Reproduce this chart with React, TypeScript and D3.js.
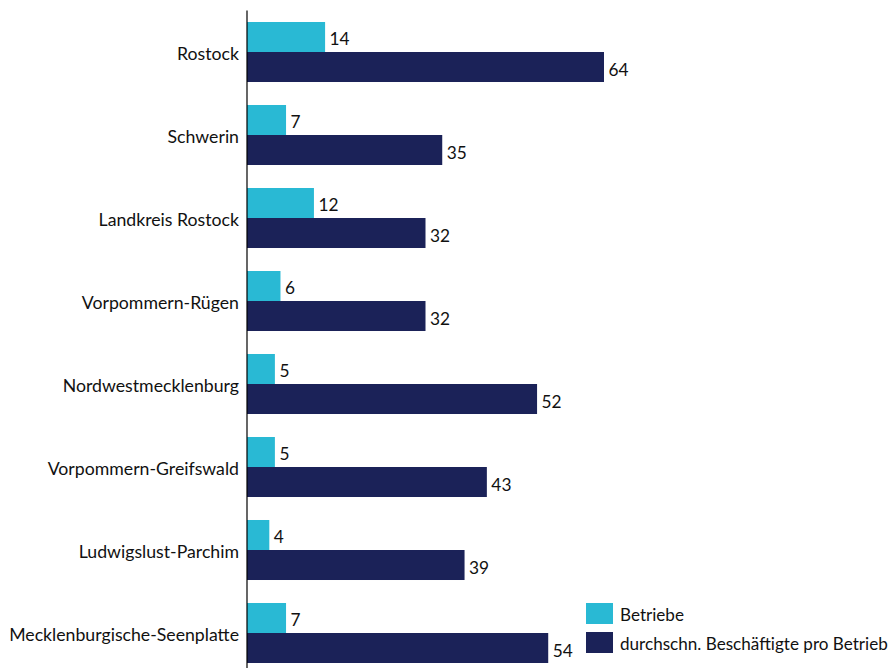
import React from "react";
import * as d3 from "d3";

const categories = [
  "Rostock",
  "Schwerin",
  "Landkreis Rostock",
  "Vorpommern-Rügen",
  "Nordwestmecklenburg",
  "Vorpommern-Greifswald",
  "Ludwigslust-Parchim",
  "Mecklenburgische-Seenplatte",
];
const betriebe = [14, 7, 12, 6, 5, 5, 4, 7];
const beschaeftigte = [64, 35, 32, 32, 52, 43, 39, 54];
const seriesNames = ["Betriebe", "durchschn. Beschäftigte pro Betrieb"];
const colors = ["#29B9D4", "#1B2258"];

const W = 895;
const H = 668;
const FONT = "Lato, 'Open Sans', sans-serif";
const FS = 17.3;
const FS_LABEL = 17.7;

export default function App() {
  const x = d3.scaleLinear().domain([0, 64]).range([247, 604]);
  const y = d3.scaleBand<string>().domain(categories).range([10.5, 674.5]).paddingInner(0.277).paddingOuter(0.1385);
  const sub = d3.scaleBand<number>().domain([0, 1]).range([0, y.bandwidth()]);
  const series = [betriebe, beschaeftigte];

  return (
    <svg width={W} height={H} style={{ position: "fixed", left: 0, top: 0, background: "#fff" }}>
      {categories.map((c, i) => (
        <g key={c}>
          <text
            x={239}
            y={(y(c) as number) + y.bandwidth() / 2 + 1.5}
            textAnchor="end"
            dominantBaseline="central"
            fontFamily={FONT}
            fontSize={FS_LABEL}
            fill="#111"
          >
            {c}
          </text>
          {series.map((s, k) => {
            const by = (y(c) as number) + (sub(k) as number);
            return (
              <g key={k}>
                <rect x={x(0)} y={by} width={x(s[i]) - x(0)} height={sub.bandwidth()} fill={colors[k]} />
                <text
                  x={x(s[i]) + 4.5}
                  y={by + sub.bandwidth() / 2 + 2}
                  dominantBaseline="central"
                  fontFamily={FONT}
                  fontSize={FS}
                  fill="#111"
                >
                  {s[i]}
                </text>
              </g>
            );
          })}
        </g>
      ))}
      <line x1={247} x2={247} y1={10.5} y2={H} stroke="#000" strokeWidth={1.2} />
      {seriesNames.map((n, k) => (
        <g key={n}>
          <rect x={586} y={603 + k * 29} width={27} height={21} fill={colors[k]} />
          <text
            x={620}
            y={614 + k * 29}
            dominantBaseline="central"
            fontFamily={FONT}
            fontSize={17.1}
            fill="#111"
          >
            {n}
          </text>
        </g>
      ))}
    </svg>
  );
}
